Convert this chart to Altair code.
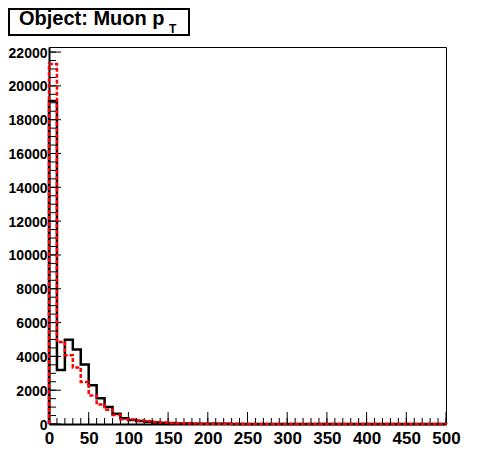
import altair as alt
import pandas as pd

# ---- data ----
bin_low = list(range(0, 500, 10))  # 50 bins of width 10 GeV, 0..500
bin_width = 10
x_end = 500

black_counts = [19100, 3200, 4980, 4410, 3520, 2290, 1520, 1000, 600, 335,
                230, 180, 130, 90, 65, 45, 35, 25, 20, 15,
                12, 10, 8, 7, 6, 5, 5, 4, 4, 3,
                3, 3, 2, 2, 2, 2, 1, 1, 1, 1,
                1, 1, 1, 1, 1, 0, 0, 0, 0, 1]
red_counts = [21300, 4850, 4070, 3340, 2490, 1690, 1160, 850, 530, 285,
              260, 210, 165, 120, 85, 60, 45, 35, 28, 22,
              18, 15, 12, 10, 8, 7, 6, 5, 5, 4,
              4, 3, 3, 3, 2, 2, 2, 2, 1, 1,
              1, 1, 1, 1, 1, 1, 1, 0, 0, 1]

x_major = list(range(0, 501, 50))
x_minor = list(range(0, 501, 10))
y_major = list(range(0, 22001, 2000))
y_minor = list(range(0, 22300, 500))
y_top = 22300

title_main = "Object: Muon p"
title_sub = "T"

# ---- build tables ----
def step_pts(counts):
    # histogram outline: corners of every bin
    xs, ys = [0], [0]
    for lo, c in zip(bin_low, counts):
        xs += [lo, lo + bin_width]
        ys += [c, c]
    xs.append(x_end)
    ys.append(0)
    return pd.DataFrame({"x": xs, "y": ys, "o": list(range(len(xs)))})

W, H = 397, 377
FONT = "Liberation Sans"

xscale = alt.Scale(domain=[0, x_end], nice=False, zero=False)
yscale = alt.Scale(domain=[0, y_top], nice=False, zero=True)

xaxis = alt.Axis(values=x_major, ticks=False, tickSize=0, grid=False, title=None,
                 labelFont=FONT, labelFontSize=17, labelFontWeight="bold",
                 labelColor="black", labelPadding=6, labelFlush=False,
                 labelOverlap=False, domainColor="black", domainWidth=2,
                 format="d")
yaxis = alt.Axis(values=y_major, ticks=False, tickSize=0, grid=False, title=None,
                 labelFont=FONT, labelFontSize=14, labelFontWeight="bold",
                 labelColor="black", labelPadding=2, labelFlush=False,
                 labelOverlap=False, domainColor="black", domainWidth=2,
                 labelOffset=1, format="d")

X = lambda: alt.X("x:Q", scale=xscale, axis=xaxis)
Y = lambda: alt.Y("y:Q", scale=yscale, axis=yaxis)

black = alt.Chart(step_pts(black_counts)).mark_line(
    color="black", strokeWidth=2.5, strokeCap="butt", strokeJoin="miter"
).encode(x=X(), y=Y(), order="o:Q")

red = alt.Chart(step_pts(red_counts)).mark_line(
    color="#ff0000", strokeWidth=2.5, strokeDash=[4, 2], strokeCap="butt",
    strokeJoin="miter"
).encode(x=X(), y=Y(), order="o:Q")

ymaj = alt.Chart(pd.DataFrame({"y": y_major})).mark_rule(color="black", strokeWidth=1).encode(
    y=Y(), x=alt.value(0), x2=alt.value(12))
ymin = alt.Chart(pd.DataFrame({"y": y_minor})).mark_rule(color="black", strokeWidth=1).encode(
    y=Y(), x=alt.value(0), x2=alt.value(7))
xmaj = alt.Chart(pd.DataFrame({"x": x_major})).mark_rule(color="black", strokeWidth=1).encode(
    x=X(), y=alt.value(H), y2=alt.value(H - 12))
xmin = alt.Chart(pd.DataFrame({"x": x_minor})).mark_rule(color="black", strokeWidth=1).encode(
    x=X(), y=alt.value(H), y2=alt.value(H - 6))

box = alt.Chart(pd.DataFrame({"a": [0]})).mark_rect(
    fill="white", stroke="black", strokeWidth=2
).encode(x=alt.value(-40), x2=alt.value(140), y=alt.value(-38), y2=alt.value(-12))

t1 = alt.Chart(pd.DataFrame({"t": [title_main]})).mark_text(
    font=FONT, fontSize=20, fontWeight="bold", align="left", baseline="alphabetic",
    color="black").encode(x=alt.value(-30), y=alt.value(-22), text="t:N")
t2 = alt.Chart(pd.DataFrame({"t": [title_sub]})).mark_text(
    font=FONT, fontSize=12, fontWeight="bold", align="left", baseline="alphabetic",
    color="black").encode(x=alt.value(120), y=alt.value(-14), text="t:N")

chart = alt.layer(
    ymin, ymaj, xmin, xmaj, black, red, box, t1, t2
).properties(
    width=W, height=H,
    autosize=alt.AutoSizeParams(type="none"),
    padding={"left": 41, "top": 39, "right": 40, "bottom": 40},
    background="white",
).configure_view(
    stroke="black", strokeWidth=1
).configure_axis(
    labelOverlap=False
)

chart.save("out.html", embed_options={"renderer": "svg", "actions": False})
